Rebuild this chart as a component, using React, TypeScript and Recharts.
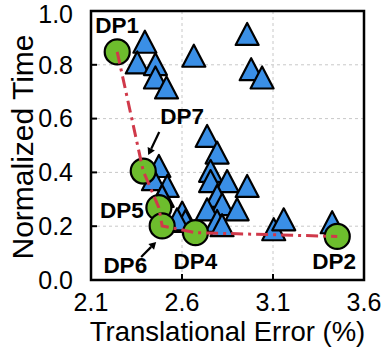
import React from 'react';
import {
  ScatterChart, Scatter, XAxis, YAxis, CartesianGrid, ReferenceArea, LabelList,
} from 'recharts';

// design points explored (blue triangles)
const configError = [
  2.396, 2.354, 2.454, 2.454, 2.515, 2.665, 2.958, 2.98, 3.04,
  2.738, 2.793, 2.757, 2.757, 2.848, 2.958, 2.793, 2.821, 2.903, 2.738, 2.793,
  2.473, 2.443, 2.519, 2.491, 2.601, 2.619, 2.573, 2.82, 3.104, 3.159, 3.425,
];
const configTime = [
  0.882, 0.805, 0.799, 0.749, 0.712, 0.83, 0.911, 0.78, 0.749,
  0.532, 0.47, 0.402, 0.364, 0.364, 0.346, 0.309, 0.278, 0.259, 0.259, 0.216,
  0.42, 0.371, 0.346, 0.309, 0.247, 0.216, 0.222, 0.2, 0.185, 0.222, 0.211,
];

// pareto-optimal design points (green circles)
const paretoNames = ['DP1', 'DP7', 'DP5', 'DP6', 'DP4', 'DP2'];
const paretoError = [2.244, 2.387, 2.473, 2.491, 2.674, 3.453];
const paretoTime = [0.848, 0.405, 0.269, 0.201, 0.176, 0.162];

const xTicks = [2.1, 2.6, 3.1, 3.6];
const yTicks = [0, 0.2, 0.4, 0.6, 0.8, 1.0];

const configs = configError.map((e, i) => ({ err: e, time: configTime[i] }));
const pareto = paretoError.map((e, i) => ({ err: e, time: paretoTime[i], name: paretoNames[i] }));

const FONT = '"Liberation Sans", Arial, sans-serif';

const Triangle = (props: any) => {
  const { cx, cy } = props;
  return (
    <polygon
      points={`${cx},${cy - 12} ${cx - 11.5},${cy + 10} ${cx + 11.5},${cy + 10}`}
      fill="#3a8fe6"
      stroke="#000"
      strokeWidth={2.2}
      strokeLinejoin="round"
    />
  );
};

const Dot = (props: any) => (
  <circle cx={props.cx} cy={props.cy} r={12.5} fill="#6dbd2d" stroke="#000" strokeWidth={2.2} />
);

// label placement for each DP tag
const tagPos: Record<string, { dx: number; dy: number; anchor: string; arrow?: number[] }> = {
  DP1: { dx: 0, dy: -19, anchor: 'middle' },
  DP7: { dx: 17, dy: -47, anchor: 'start', arrow: [16, -39, 5, -16] },
  DP5: { dx: -15, dy: 10, anchor: 'end' },
  DP6: { dx: -15, dy: 47, anchor: 'end', arrow: [-21, 31, -6, 16] },
  DP4: { dx: 0, dy: 36, anchor: 'middle' },
  DP2: { dx: -3, dy: 33, anchor: 'middle' },
};

const Tag = (props: any) => {
  const { x, y, width, height, value } = props;
  const cx = x + width / 2;
  const cy = y + height / 2;
  const p = tagPos[value];
  if (!p) return null;
  let arrow = null;
  if (p.arrow) {
    const [x1, y1, x2, y2] = p.arrow;
    const ax = cx + x2, ay = cy + y2;
    const ang = Math.atan2(y2 - y1, x2 - x1);
    const L = 7, W = 4;
    const bx = ax - L * Math.cos(ang), by = ay - L * Math.sin(ang);
    const h1 = `${bx + W * Math.sin(ang)},${by - W * Math.cos(ang)}`;
    const h2 = `${bx - W * Math.sin(ang)},${by + W * Math.cos(ang)}`;
    arrow = (
      <g>
        <line x1={cx + x1} y1={cy + y1} x2={bx} y2={by} stroke="#000" strokeWidth={2.2} />
        <polygon points={`${ax},${ay} ${h1} ${h2}`} fill="#000" />
      </g>
    );
  }
  return (
    <g>
      {arrow}
      <text x={cx + p.dx} y={cy + p.dy} textAnchor={p.anchor as any} fontFamily={FONT}
        fontWeight="bold" fontSize={22.5} fill="#000">
        {value}
      </text>
    </g>
  );
};

export default function App() {
  return (
    <div style={{ position: 'absolute', left: 0, top: 0, width: 390, height: 347, background: '#fff' }}>
      <ScatterChart width={390} height={347} margin={{ top: 11, right: 26, bottom: 0, left: 0 }}>
        <CartesianGrid stroke="#c8c8c8" strokeDasharray="3 3" />
        <XAxis
          type="number"
          dataKey="err"
          domain={[2.1, 3.6]}
          ticks={xTicks}
          tickFormatter={(v: number) => v.toFixed(1)}
          height={67}
          tickSize={-6}
          tickMargin={19}
          axisLine={{ stroke: '#000', strokeWidth: 2 }}
          tickLine={{ stroke: '#000', strokeWidth: 2 }}
          tick={{ fill: '#000', fontSize: 25, fontFamily: FONT }}
          label={{ value: 'Translational Error (%)', position: 'insideBottom', offset: 6, fill: '#000', fontSize: 27.5, fontFamily: FONT }}
        />
        <YAxis
          type="number"
          dataKey="time"
          domain={[0, 1]}
          ticks={yTicks}
          tickFormatter={(v: number) => v.toFixed(1)}
          width={91}
          tickSize={-6}
          tickMargin={24}
          axisLine={{ stroke: '#000', strokeWidth: 2 }}
          tickLine={{ stroke: '#000', strokeWidth: 2 }}
          tick={{ fill: '#000', fontSize: 25, fontFamily: FONT }}
          label={{
            content: () => (
              <text x={22} y={147} transform="rotate(-90 22 147)" textAnchor="middle"
                dominantBaseline="central" fill="#000" fontSize={30} fontFamily={FONT}>
                Normalized Time
              </text>
            ),
          }}
        />
        <ReferenceArea x1={2.1} x2={3.6} y1={0} y2={1} fill="none" stroke="#000" strokeWidth={2.5} />
        <Scatter data={configs} shape={Triangle} isAnimationActive={false} />
        <Scatter data={pareto} shape={Dot} isAnimationActive={false} />
        <Scatter
          data={pareto}
          shape={() => <g />}
          line={{ stroke: '#d0394a', strokeWidth: 3, strokeDasharray: '12 5 3 5' }}
          isAnimationActive={false}
        >
          <LabelList dataKey="name" content={Tag} />
        </Scatter>
      </ScatterChart>
    </div>
  );
}
